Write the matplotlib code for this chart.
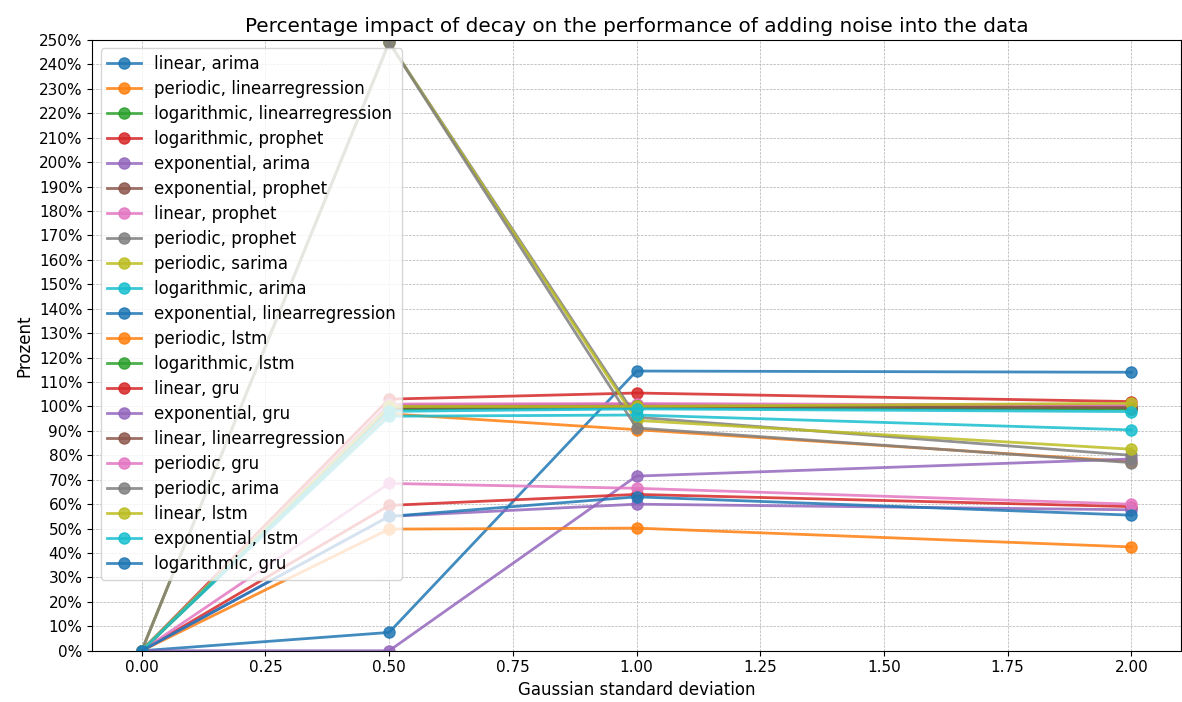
import matplotlib
matplotlib.use("Agg")
import matplotlib.pyplot as plt
from matplotlib.ticker import PercentFormatter, MultipleLocator

x = [0.0, 0.5, 1.0, 2.0]

labels = [
    "linear, arima",
    "periodic, linearregression",
    "logarithmic, linearregression",
    "logarithmic, prophet",
    "exponential, arima",
    "exponential, prophet",
    "linear, prophet",
    "periodic, prophet",
    "periodic, sarima",
    "logarithmic, arima",
    "exponential, linearregression",
    "periodic, lstm",
    "logarithmic, lstm",
    "linear, gru",
    "exponential, gru",
    "linear, linearregression",
    "periodic, gru",
    "periodic, arima",
    "linear, lstm",
    "exponential, lstm",
    "logarithmic, gru",
]

linear_arima = [0, 7.5, 114.5, 114.0]
periodic_linearregression = [0, 97.0, 90.5, 77.4]
logarithmic_linearregression = [0, 100.0, 100.5, 99.5]
logarithmic_prophet = [0, 103.0, 105.5, 102.0]
exponential_arima = [0, 0.0, 71.5, 78.5]
exponential_prophet = [0, 100.5, 100.8, 100.0]
linear_prophet = [0, 101.0, 101.2, 100.5]
periodic_prophet = [0, 249.0, 95.6, 80.0]
periodic_sarima = [0, 249.0, 94.3, 82.5]
logarithmic_arima = [0, 96.0, 96.5, 90.4]
exponential_linearregression = [0, 99.0, 99.5, 99.0]
periodic_lstm = [0, 49.8, 50.2, 42.5]
logarithmic_lstm = [0, 99.0, 100.0, 99.0]
linear_gru = [0, 59.5, 64.0, 59.0]
exponential_gru = [0, 55.0, 60.0, 57.7]
linear_linearregression = [0, 99.5, 100.0, 99.5]
periodic_gru = [0, 68.5, 66.5, 60.0]
periodic_arima = [0, 249.0, 91.2, 77.0]
linear_lstm = [0, 100.0, 100.0, 101.3]
exponential_lstm = [0, 98.0, 99.0, 97.9]
logarithmic_gru = [0, 55.0, 63.0, 55.5]

series = [
    linear_arima, periodic_linearregression, logarithmic_linearregression,
    logarithmic_prophet, exponential_arima, exponential_prophet, linear_prophet,
    periodic_prophet, periodic_sarima, logarithmic_arima,
    exponential_linearregression, periodic_lstm, logarithmic_lstm, linear_gru,
    exponential_gru, linear_linearregression, periodic_gru, periodic_arima,
    linear_lstm, exponential_lstm, logarithmic_gru,
]

fig, ax = plt.subplots(figsize=(11.82, 7.02), dpi=100)
for lab, vals in zip(labels, series):
    ax.plot(x, vals, marker="o", label=lab, alpha=0.85, linewidth=2, markersize=8)

ax.set_ylim(0, 250)
ax.yaxis.set_major_locator(MultipleLocator(10))
ax.yaxis.set_major_formatter(PercentFormatter(100, decimals=0))
ax.tick_params(labelsize=11)
ax.grid(True, linestyle="--", linewidth=0.5)
ax.set_title("Percentage impact of decay on the performance of adding noise into the data", fontsize=14.4)
ax.set_xlabel("Gaussian standard deviation", fontsize=12)
ax.set_ylabel("Prozent", fontsize=12)
ax.legend(loc="upper left", fontsize=12, labelspacing=0.42)
fig.subplots_adjust(left=0.078, right=0.999, top=0.943, bottom=0.073)
fig.savefig("out.png", dpi=100)
